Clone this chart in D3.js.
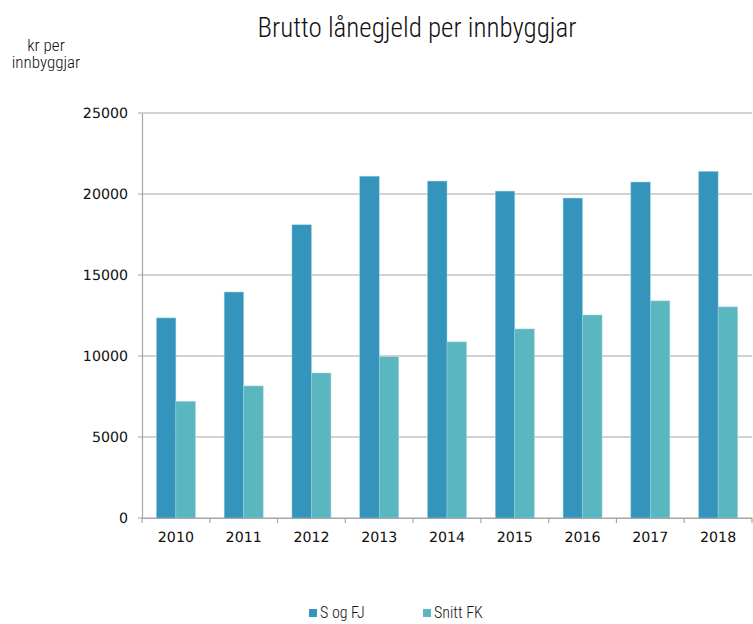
<!DOCTYPE html>
<html>
<head>
<meta charset="utf-8">
<script src="https://cdn.jsdelivr.net/npm/d3@7"></script>
<style>
  body { margin: 0; background: #fff; }
  svg { display: block; }
  .tick text { text-rendering: geometricPrecision; }
</style>
</head>
<body>
<script>
const years = ["2010", "2011", "2012", "2013", "2014", "2015", "2016", "2017", "2018"];
const seriesNames = ["S og FJ", "Snitt FK"];
const sogFj = [12350, 13950, 18100, 21100, 20800, 20180, 19750, 20740, 21400];
const snittFk = [7200, 8150, 8950, 9950, 10870, 11670, 12530, 13400, 13030];
const yTicks = [0, 5000, 10000, 15000, 20000, 25000];
const colors = ["#3594bb", "#5ab6bf"];

const width = 753, height = 624;
const margin = {top: 113, right: 1, bottom: 106, left: 142};
const innerWidth = width - margin.left - margin.right;
const innerHeight = height - margin.top - margin.bottom;

const svg = d3.select('body').append('svg')
  .attr('width', width)
  .attr('height', height);

const narrow = '"Roboto Condensed", "Liberation Sans Narrow", sans-serif';
const tickFont = 'DejaVu Sans, Verdana, sans-serif';

svg.append('text')
  .attr('x', 417).attr('y', 37)
  .attr('text-anchor', 'middle')
  .style('font-family', narrow)
  .style('font-weight', 300)
  .attr('font-size', 27)
  .attr('fill', '#111')
  .text('Brutto lånegjeld per innbyggjar');

svg.append('text')
  .attr('x', 46).attr('y', 51)
  .attr('text-anchor', 'middle')
  .style('font-family', narrow)
  .style('font-weight', 300)
  .attr('font-size', 17)
  .attr('fill', '#111')
  .selectAll('tspan')
  .data(['kr per', 'innbyggjar'])
  .join('tspan')
    .attr('x', 46)
    .attr('dy', (_, i) => i ? 17 : 0)
    .text(d => d);

const g = svg.append('g')
  .attr('transform', `translate(${margin.left},${margin.top})`);

const x = d3.scaleBand()
  .domain(years)
  .range([0, innerWidth]);

const xz = d3.scaleBand()
  .domain(seriesNames)
  .range([0, 39]);

const y = d3.scaleLinear()
  .domain([0, 25000])
  .range([innerHeight, 0]);

// gridlines
g.append('g')
  .selectAll('line')
  .data(yTicks)
  .join('line')
    .attr('x1', -4).attr('x2', innerWidth)
    .attr('y1', d => y(d)).attr('y2', d => y(d))
    .attr('stroke', '#a6a6a6')
    .attr('stroke-width', 1.2);

// y axis
const yAxisG = g.append('g')
  .call(d3.axisLeft(y).tickValues(yTicks).tickSize(0).tickPadding(14).tickFormat(d3.format('d')))
  .attr('font-family', tickFont)
  .attr('font-size', 14.2);
yAxisG.select('.domain').attr('stroke', '#a6a6a6').attr('stroke-width', 1.2);
yAxisG.selectAll('text').attr('fill', '#111');

const data = years.flatMap((yr, i) => [
  {year: yr, name: seriesNames[0], value: sogFj[i]},
  {year: yr, name: seriesNames[1], value: snittFk[i]}
]);

g.append('g')
  .selectAll('rect')
  .data(data)
  .join('rect')
    .attr('x', d => x(d.year) + (x.bandwidth() - 39) / 2 + xz(d.name))
    .attr('y', d => y(d.value))
    .attr('width', xz.bandwidth())
    .attr('height', d => y(0) - y(d.value))
    .attr('fill', d => colors[seriesNames.indexOf(d.name)])
    .attr('stroke', '#9fd3dc')
    .attr('stroke-width', 0.5);

// x axis
const xAxisG = g.append('g')
  .attr('transform', `translate(0,${innerHeight})`)
  .call(d3.axisBottom(x).tickSize(0).tickPadding(14))
  .attr('font-family', tickFont)
  .attr('font-size', 14.2);
xAxisG.select('.domain').attr('stroke', '#a6a6a6').attr('stroke-width', 1.2);
xAxisG.selectAll('text').attr('fill', '#111');

// category separator ticks
g.append('g')
  .selectAll('line')
  .data(years.concat(['end']))
  .join('line')
    .attr('x1', (d, i) => i * x.step()).attr('x2', (d, i) => i * x.step())
    .attr('y1', innerHeight).attr('y2', innerHeight + 5)
    .attr('stroke', '#a6a6a6')
    .attr('stroke-width', 1.2);

// legend
const legendX = [309, 423];
const legend = svg.append('g')
  .selectAll('g')
  .data(seriesNames)
  .join('g')
    .attr('transform', (_, i) => `translate(${legendX[i]},609)`);
legend.append('rect')
  .attr('width', 8).attr('height', 8)
  .attr('fill', (_, i) => colors[i]);
legend.append('text')
  .attr('x', 11).attr('y', 9)
  .style('font-family', narrow)
  .style('font-weight', 300)
  .attr('font-size', 16)
  .attr('fill', '#111')
  .text(d => d);
</script>
</body>
</html>
